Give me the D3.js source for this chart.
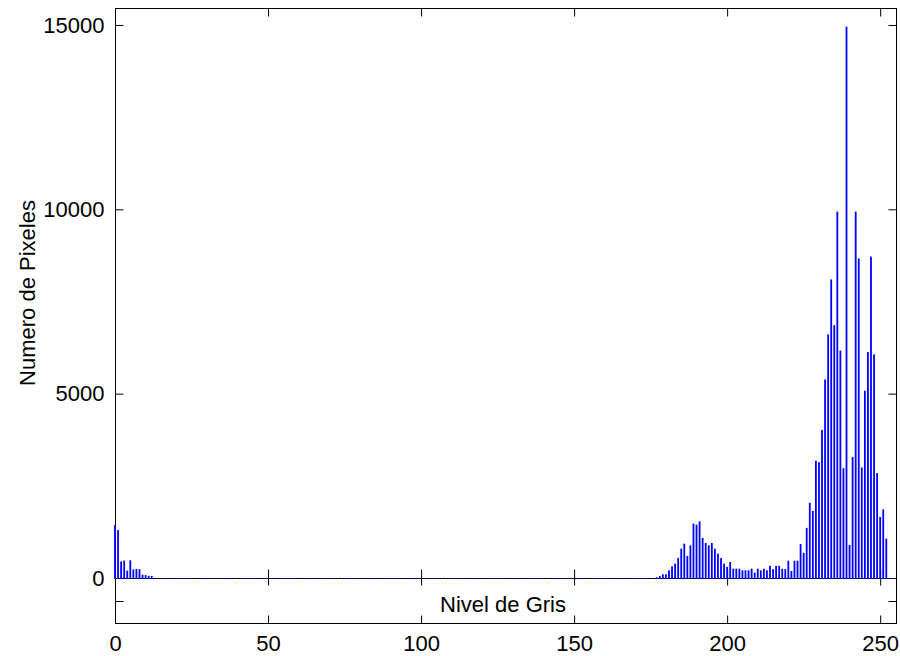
<!DOCTYPE html>
<html>
<head>
<meta charset="utf-8">
<script src="https://cdn.jsdelivr.net/npm/d3@7"></script>
<style>
    body { margin: 0; background: #fff; }
    svg text { font-family: "Liberation Sans", Arial, sans-serif; font-size: 22px; fill: #000; }
</style>
</head>
<body>
<svg id="chart"></svg>
<script>
// gray levels 0..255, pixel count per level (rows of 16)
const counts = [
    1440, 1300, 450, 470, 200, 480, 230, 245, 240, 90, 80, 60, 55, 0, 0, 0,
    0, 0, 0, 0, 0, 0, 0, 0, 0, 0, 0, 0, 0, 0, 0, 0,
    0, 0, 0, 0, 0, 0, 0, 0, 0, 0, 0, 0, 0, 0, 0, 0,
    0, 0, 0, 0, 0, 0, 0, 0, 0, 0, 0, 0, 0, 0, 0, 0,
    0, 0, 0, 0, 0, 0, 0, 0, 0, 0, 0, 0, 0, 0, 0, 0,
    0, 0, 0, 0, 0, 0, 0, 0, 0, 0, 0, 0, 0, 0, 0, 0,
    0, 0, 0, 0, 0, 0, 0, 0, 0, 0, 0, 0, 0, 0, 0, 0,
    0, 0, 0, 0, 0, 0, 0, 0, 0, 0, 0, 0, 0, 0, 0, 0,
    0, 0, 0, 0, 0, 0, 0, 0, 0, 0, 0, 0, 0, 0, 0, 0,
    0, 0, 0, 0, 0, 0, 0, 0, 0, 0, 0, 0, 0, 0, 0, 0,
    0, 0, 0, 0, 0, 0, 0, 0, 0, 0, 0, 0, 0, 0, 0, 0,
    0, 20, 55, 100, 100, 208, 316, 390, 540, 795, 930, 600, 885, 1475, 1446, 1537,
    1085, 950, 885, 950, 795, 660, 540, 390, 300, 434, 253, 253, 253, 208, 208, 208,
    253, 145, 253, 208, 253, 208, 330, 240, 330, 330, 250, 240, 470, 190, 470, 470,
    920, 680, 1360, 2040, 1820, 3180, 3140, 4015, 5385, 6604, 8097, 6858, 9937, 6167, 2977, 14956,
    894, 3282, 9937, 8667, 2997, 5080, 6127, 8717, 6066, 2845, 1656, 1860, 1067, 0, 0, 0
];
const xTicks = [0, 50, 100, 150, 200, 250];
const yTicks = [0, 5000, 10000, 15000];
const xLimits = [0, 255.5];
const yLimits = [0, 15460];
const xLabel = "Nivel de Gris";
const yLabel = "Numero de Pixeles";

class StemHist {

    constructor(_config) {
        this.config = {
            parentElement: _config.parentElement,
            containerWidth: _config.containerWidth || 900,
            containerHeight: _config.containerHeight || 656,
        };
        // plot box and the empty strip under it
        this.config.plot = { left: 115, right: 897, top: 8, bottom: 578 };
        this.config.stripBottom = 624;
        this.initVis();
    }

    initVis() {
        let vis = this;
        let p = vis.config.plot;

        vis.svg = d3.select(vis.config.parentElement)
            .attr('width', vis.config.containerWidth)
            .attr('height', vis.config.containerHeight);

        vis.x = d3.scaleLinear().domain(xLimits).range([p.left, p.right]);
        vis.y = d3.scaleLinear().domain(yLimits).range([p.bottom, p.top]);
        vis.yStrip = d3.scaleLinear().domain([0, 1]).range([vis.config.stripBottom, p.bottom]);

        vis.render();
    }

    render() {
        let vis = this;
        let p = vis.config.plot;

        // frames
        vis.svg.append('rect')
            .attr('x', p.left + 0.5).attr('y', p.top + 0.5)
            .attr('width', p.right - p.left - 1).attr('height', vis.config.stripBottom - p.top - 1)
            .attr('fill', 'none').attr('stroke', '#000');
        vis.svg.append('line')
            .attr('x1', p.left).attr('x2', p.right)
            .attr('y1', p.bottom + 0.5).attr('y2', p.bottom + 0.5)
            .attr('stroke', '#000');

        const noLabel = () => '';
        const add = (axis, tx, ty) => {
            let g = vis.svg.append('g')
                .attr('transform', `translate(${tx},${ty})`)
                .call(axis);
            g.select('.domain').remove();
            g.attr('font-size', null).attr('font-family', null);
            g.selectAll('line').attr('stroke', '#000');
            return g;
        };

        // ticks of the histogram box
        add(d3.axisLeft(vis.y).tickValues(yTicks).tickSize(-8).tickSizeOuter(0)
            .tickPadding(11).tickFormat(d3.format('d')), p.left + 0.5, 0);
        add(d3.axisRight(vis.y).tickValues(yTicks).tickSize(-8).tickSizeOuter(0)
            .tickFormat(noLabel), p.right - 0.5, 0);
        add(d3.axisTop(vis.x).tickValues(xTicks).tickSize(-8).tickSizeOuter(0)
            .tickFormat(noLabel), 0, p.top + 0.5);
        add(d3.axisBottom(vis.x).tickValues(xTicks).tickSize(-9).tickSizeOuter(0)
            .tickFormat(noLabel), 0, p.bottom + 0.5);

        // ticks of the strip
        add(d3.axisTop(vis.x).tickValues(xTicks).tickSize(-7).tickSizeOuter(0)
            .tickFormat(noLabel), 0, p.bottom + 0.5);
        add(d3.axisBottom(vis.x).tickValues(xTicks).tickSize(-8).tickSizeOuter(0)
            .tickPadding(12).tickFormat(d3.format('d')), 0, vis.config.stripBottom - 0.5);
        add(d3.axisLeft(vis.yStrip).tickValues([0.5]).tickSize(-8).tickSizeOuter(0)
            .tickFormat(noLabel), p.left + 0.5, 0);
        add(d3.axisRight(vis.yStrip).tickValues([0.5]).tickSize(-8).tickSizeOuter(0)
            .tickFormat(noLabel), p.right - 0.5, 0);

        // stems; empty levels leave only a dot on the base line
        vis.svg.append('g')
            .selectAll('rect')
            .data(counts)
            .join('rect')
            .attr('x', (d, i) => vis.x(i) - (d > 0 ? 0.9 : 0.5))
            .attr('width', d => d > 0 ? 1.8 : 1)
            .attr('y', d => vis.y(d))
            .attr('height', d => vis.y(0) - vis.y(d) + 1)
            .attr('fill', '#0000ff');

        // labels
        vis.svg.append('text')
            .attr('x', (p.left + p.right) / 2 - 3)
            .attr('y', 612)
            .attr('text-anchor', 'middle')
            .text(xLabel);

        vis.svg.append('text')
            .attr('transform', `translate(35,${(p.top + p.bottom) / 2}) rotate(-90)`)
            .attr('text-anchor', 'middle')
            .text(yLabel);
    }
}

new StemHist({ parentElement: '#chart' });
</script>
</body>
</html>
